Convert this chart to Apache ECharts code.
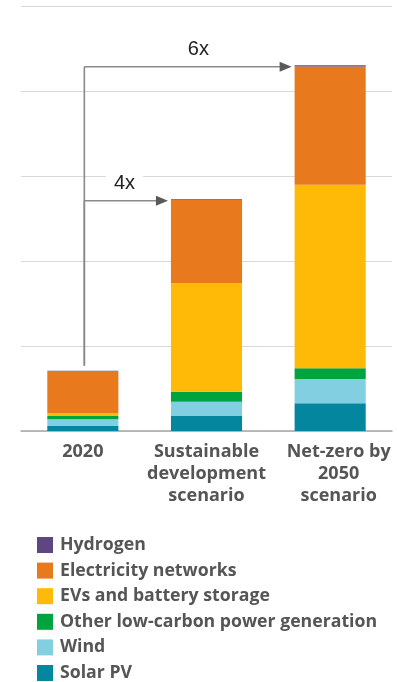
<!DOCTYPE html>
<html><head><meta charset="utf-8">
<script src="https://cdn.jsdelivr.net/npm/echarts@6/dist/echarts.min.js"></script>
<style>html,body{margin:0;padding:0;background:#fff}#c{width:397px;height:682px}</style>
</head><body><div id="c"></div>
<script>
// Data (Mt)
const categories = ['2020', 'Sustainable\ndevelopment\nscenario', 'Net-zero by\n2050\nscenario'];
const solarPV = [0.59, 1.76, 3.26];
const wind = [0.79, 1.68, 2.86];
const otherLowCarbon = [0.39, 1.18, 1.26];
const evsBattery = [0.32, 12.75, 21.6];
const electricityNetworks = [4.98, 9.8, 13.9];
const hydrogen = [0.02, 0.1, 0.15];
const legendOrder = ['Hydrogen', 'Electricity networks', 'EVs and battery storage', 'Other low-carbon power generation', 'Wind', 'Solar PV'];
const arrowFrom = [0, 0];
const arrowTo = [1, 2];
const arrowLabels = ['4x', '6x'];

const totals = categories.map((_, i) => solarPV[i] + wind[i] + otherLowCarbon[i] + evsBattery[i] + electricityNetworks[i] + hydrogen[i]);

const colors = {
  'Solar PV': '#03869e',
  'Wind': '#82cfe1',
  'Other low-carbon power generation': '#00a33d',
  'EVs and battery storage': '#feba07',
  'Electricity networks': '#e9791d',
  'Hydrogen': '#5e4780'
};
const stackSeries = [
  ['Solar PV', solarPV],
  ['Wind', wind],
  ['Other low-carbon power generation', otherLowCarbon],
  ['EVs and battery storage', evsBattery],
  ['Electricity networks', electricityNetworks],
  ['Hydrogen', hydrogen]
];
const BAR_FRAC = 0.575;
const labelFrac = {1: 0.48, 2: 0.55};

const chart = echarts.init(document.getElementById('c'), null, {renderer: 'canvas'});
const font = "'Open Sans', sans-serif";

const series = stackSeries.map(([name, vals]) => ({
  name, type: 'bar', stack: 'total', data: vals,
  barWidth: (BAR_FRAC * 100) + '%',
  itemStyle: {color: colors[name]},
  emphasis: {disabled: true},
  animation: false
}));

series.push({
  type: 'custom',
  name: 'arrows',
  animation: false,
  silent: true,
  z: 10,
  clip: false,
  encode: {x: 0, y: 2},
  data: arrowFrom.map((f, i) => [f, arrowTo[i], totals[arrowTo[i]], totals[f]]),
  renderItem: function (params, api) {
    const from = api.value(0), to = api.value(1), lvl = api.value(2), base = api.value(3);
    const idx = params.dataIndex;
    const catW = api.size([1, 0])[0];
    const barW = catW * BAR_FRAC;
    const p0 = api.coord([from, lvl]);
    const pb = api.coord([from, base]);
    const pt = api.coord([to, lvl]);
    const x0 = p0[0] + 1.5;
    const y = p0[1] + 1.5;
    const tipX = pt[0] - barW / 2 - 3;
    const headL = 12, headH = 5;
    const lx = x0 + (tipX - x0) * labelFrac[to];
    return {
      type: 'group',
      children: [
        {type: 'line', shape: {x1: x0, y1: pb[1] - 5, x2: x0, y2: y}, style: {stroke: '#8a8a8a', lineWidth: 1.6}},
        {type: 'line', shape: {x1: x0, y1: y, x2: tipX - headL + 1, y2: y}, style: {stroke: '#8a8a8a', lineWidth: 1.6}},
        {type: 'polygon', shape: {points: [[tipX, y], [tipX - headL, y - headH], [tipX - headL, y + headH]]}, style: {fill: '#5a5a5a'}},
        {type: 'text', x: lx, y: y - 17, style: {
          text: arrowLabels[idx], fill: '#222', font: "20px 'Liberation Sans', Arial, sans-serif",
          align: 'center', verticalAlign: 'middle', backgroundColor: '#fff', padding: [2, 8]
        }}
      ]
    };
  }
});

chart.setOption({
  backgroundColor: '#fff',
  animation: false,
  grid: {left: 21, right: 5, top: 6, bottom: 251, containLabel: false},
  legend: {
    data: legendOrder,
    orient: 'vertical',
    left: 37, top: 536, height: 146,
    padding: 0,
    icon: 'rect',
    itemWidth: 16, itemHeight: 16, itemGap: 7.6,
    selectedMode: false,
    textStyle: {fontSize: 17.7, lineHeight: 18, fontFamily: font, fontWeight: 'bold', color: '#555', padding: [0, 0, 0, 2]}
  },
  xAxis: {
    type: 'category',
    data: categories.map((c, i) => i === 2 ? {value: c, textStyle: {padding: [0, 0, 0, 17]}} : c),
    axisLine: {lineStyle: {color: '#a8a8a8', width: 1.5}},
    axisTick: {show: false},
    axisLabel: {interval: 0, fontSize: 18, fontFamily: font, fontWeight: 'bold', color: '#555', lineHeight: 22, margin: 10}
  },
  yAxis: {
    type: 'value', min: 0, max: 50, interval: 10,
    axisLabel: {show: false}, axisLine: {show: false}, axisTick: {show: false},
    splitLine: {lineStyle: {color: '#d9d9d9', width: 1.2}}
  },
  series
});
</script></body></html>
